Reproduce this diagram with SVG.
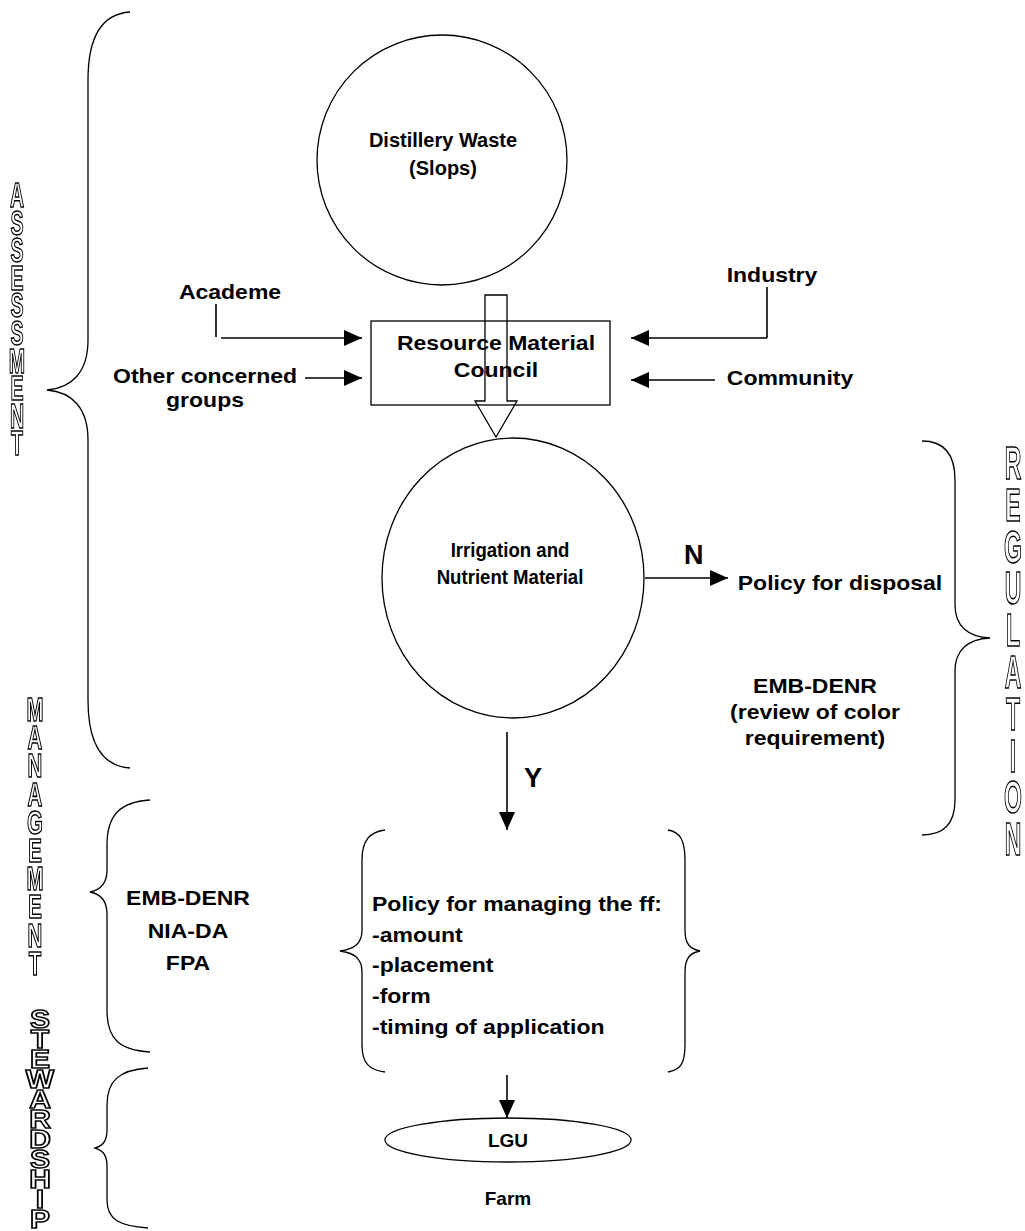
<svg xmlns="http://www.w3.org/2000/svg" width="1025" height="1231" viewBox="0 0 1025 1231">
<defs>
<style>
.t{font-family:"Liberation Sans",Arial,sans-serif;font-weight:bold;font-size:20px;fill:#000}
.big{font-size:27px}
.v{font-family:"Liberation Sans",Arial,sans-serif;font-weight:bold;fill:none;stroke:#000;stroke-width:1.5;vector-effect:non-scaling-stroke}
.ln{fill:none;stroke:#000;stroke-width:1.6}
.sh{fill:none;stroke:#000;stroke-width:1.3}
</style>
<filter id="gray" x="-20%" y="-5%" width="140%" height="110%"><feColorMatrix type="saturate" values="0"/></filter>
<marker id="ah" markerUnits="userSpaceOnUse" markerWidth="18" markerHeight="16" refX="18" refY="8" orient="auto">
<path d="M0,0 L18,8 L0,16 z" fill="#000"/>
</marker>
</defs>
<rect width="1025" height="1231" fill="#fff"/>

<g id="label-assessment">
<g filter="url(#gray)"><text class="v" font-size="35" text-anchor="middle" transform="translate(17 0) scale(0.56 1)"><tspan x="0" y="207">A</tspan><tspan x="0" y="234.6">S</tspan><tspan x="0" y="262.2">S</tspan><tspan x="0" y="289.8">E</tspan><tspan x="0" y="317.4">S</tspan><tspan x="0" y="345">S</tspan><tspan x="0" y="372.6">M</tspan><tspan x="0" y="400.2">E</tspan><tspan x="0" y="427.8">N</tspan><tspan x="0" y="455.4">T</tspan></text></g>
<path class="sh" d="M130,12 C100,14 88,40 88,80 L88,340 C88,372 72,388 47,390 C72,392 88,408 88,440 L88,700 C88,740 100,766 130,768"/>
</g>

<g id="label-regulation">
<g filter="url(#gray)"><text class="v" font-size="46" text-anchor="middle" transform="translate(1013 0) scale(0.5 1)"><tspan x="0" y="479">R</tspan><tspan x="0" y="520.8">E</tspan><tspan x="0" y="562.6">G</tspan><tspan x="0" y="604.4">U</tspan><tspan x="0" y="646.2">L</tspan><tspan x="0" y="688">A</tspan><tspan x="0" y="729.8">T</tspan><tspan x="0" y="771.6">I</tspan><tspan x="0" y="813.4">O</tspan><tspan x="0" y="855.2">N</tspan></text></g>
<path class="sh" d="M922,441 C945,441 955,455 955,480 L955,605 C955,626 968,637 990,638 C968,639 955,650 955,671 L955,800 C955,822 945,835 922,835"/>
</g>

<g id="label-management">
<g filter="url(#gray)"><text class="v" font-size="33" text-anchor="middle" transform="translate(35 0) scale(0.62 1)"><tspan x="0" y="721">M</tspan><tspan x="0" y="749.2">A</tspan><tspan x="0" y="777.4">N</tspan><tspan x="0" y="805.6">A</tspan><tspan x="0" y="833.8">G</tspan><tspan x="0" y="862">E</tspan><tspan x="0" y="890.2">M</tspan><tspan x="0" y="918.4">E</tspan><tspan x="0" y="946.6">N</tspan><tspan x="0" y="974.8">T</tspan></text></g>
<path class="sh" d="M150,800 C120,802 107,815 107,845 L107,870 C107,884 100,890 90,892 C100,894 107,900 107,914 L107,1010 C107,1040 120,1050 150,1052"/>
</g>

<g id="label-stewardship">
<g filter="url(#gray)"><text class="v" font-size="25" text-anchor="middle" transform="translate(40 0) scale(1.2 1)"><tspan x="0" y="1028">S</tspan><tspan x="0" y="1048">T</tspan><tspan x="0" y="1068">E</tspan><tspan x="0" y="1088">W</tspan><tspan x="0" y="1108">A</tspan><tspan x="0" y="1128">R</tspan><tspan x="0" y="1148">D</tspan><tspan x="0" y="1168">S</tspan><tspan x="0" y="1188">H</tspan><tspan x="0" y="1208">I</tspan><tspan x="0" y="1228">P</tspan></text></g>
<path class="sh" d="M148,1068 C120,1070 107,1080 107,1105 L107,1130 C107,1142 102,1146 95,1148 C102,1150 107,1154 107,1166 L107,1200 C107,1220 120,1226 148,1228"/>
</g>

<g id="node-distillery">
<circle class="sh" cx="442" cy="160" r="125"/>
<text class="t" text-anchor="middle"><tspan x="443" y="147">Distillery Waste</tspan><tspan x="443" y="175">(Slops)</tspan></text>
</g>

<g id="node-council">
<rect class="sh" x="371" y="321" width="239" height="84"/>
<text class="t" text-anchor="middle" transform="translate(496 0) scale(1.15 1)"><tspan x="0" y="350">Resource Material</tspan><tspan x="0" y="377">Council</tspan></text>
</g>

<g id="node-academe"><text class="t" text-anchor="middle" transform="translate(230 0) scale(1.15 1)" y="299">Academe</text></g>
<g id="node-other"><text class="t" text-anchor="middle" transform="translate(205 0) scale(1.15 1)"><tspan x="0" y="383">Other concerned</tspan><tspan x="0" y="407">groups</tspan></text></g>
<g id="node-industry"><text class="t" text-anchor="middle" transform="translate(772 0) scale(1.15 1)" y="282">Industry</text></g>
<g id="node-community"><text class="t" text-anchor="middle" transform="translate(790 0) scale(1.15 1)" y="385">Community</text></g>

<g id="node-irrigation">
<ellipse class="sh" cx="513" cy="578" rx="131" ry="140"/>
<text class="t" text-anchor="middle" transform="translate(510 0) scale(0.93 1)"><tspan x="0" y="557">Irrigation and</tspan><tspan x="0" y="584">Nutrient Material</tspan></text>
</g>

<g id="node-disposal"><text class="t" text-anchor="middle" transform="translate(840 0) scale(1.15 1)" y="590">Policy for disposal</text></g>

<g id="node-emb-reg"><text class="t" text-anchor="middle" transform="translate(815 0) scale(1.15 1)"><tspan x="0" y="693">EMB-DENR</tspan><tspan x="0" y="719">(review of color</tspan><tspan x="0" y="745">requirement)</tspan></text></g>

<g id="node-agencies"><text class="t" text-anchor="middle" transform="translate(188 0) scale(1.15 1)"><tspan x="0" y="905">EMB-DENR</tspan><tspan x="0" y="938">NIA-DA</tspan><tspan x="0" y="970">FPA</tspan></text></g>

<g id="node-policy">
<path class="sh" d="M385,830 C370,832 362,840 362,860 L362,930 C362,944 354,949 340,951 C354,953 362,958 362,972 L362,1045 C362,1064 370,1070 385,1072"/>
<path class="sh" d="M668,830 C680,832 685,840 685,860 L685,930 C685,944 690,949 700,951 C690,953 685,958 685,972 L685,1045 C685,1064 680,1070 668,1072"/>
<text class="t" transform="translate(372 0) scale(1.15 1)"><tspan x="0" y="911">Policy for managing the ff:</tspan><tspan x="0" y="942">-amount</tspan><tspan x="0" y="972">-placement</tspan><tspan x="0" y="1003">-form</tspan><tspan x="0" y="1034">-timing of application</tspan></text>
</g>

<g id="node-lgu">
<ellipse class="sh" cx="508" cy="1140" rx="123" ry="22"/>
<text class="t" text-anchor="middle" style="font-size:19px" x="508" y="1147">LGU</text>
</g>
<g id="node-farm"><text class="t" text-anchor="middle" style="font-size:19px" x="508" y="1205">Farm</text></g>

<g id="connectors">
<path class="sh" d="M485,295 L485,401 L475,401 L496,437 L517,401 L507,401 L507,295 Z"/>
<line class="ln" x1="216" y1="304" x2="216" y2="337"/>
<line class="ln" x1="221" y1="338" x2="362" y2="338" marker-end="url(#ah)"/>
<line class="ln" x1="305" y1="378" x2="362" y2="378" marker-end="url(#ah)"/>
<line class="ln" x1="767" y1="287" x2="767" y2="338"/>
<line class="ln" x1="767" y1="338" x2="631" y2="338" marker-end="url(#ah)"/>
<line class="ln" x1="715" y1="380" x2="631" y2="380" marker-end="url(#ah)"/>
<line class="ln" x1="645" y1="578" x2="728" y2="578" marker-end="url(#ah)"/>
<text class="t big" x="684" y="564">N</text>
<line class="ln" x1="507" y1="732" x2="507" y2="830" marker-end="url(#ah)"/>
<text class="t big" x="524" y="787">Y</text>
<line class="ln" x1="507" y1="1075" x2="507" y2="1118" marker-end="url(#ah)"/>
</g>
</svg>
